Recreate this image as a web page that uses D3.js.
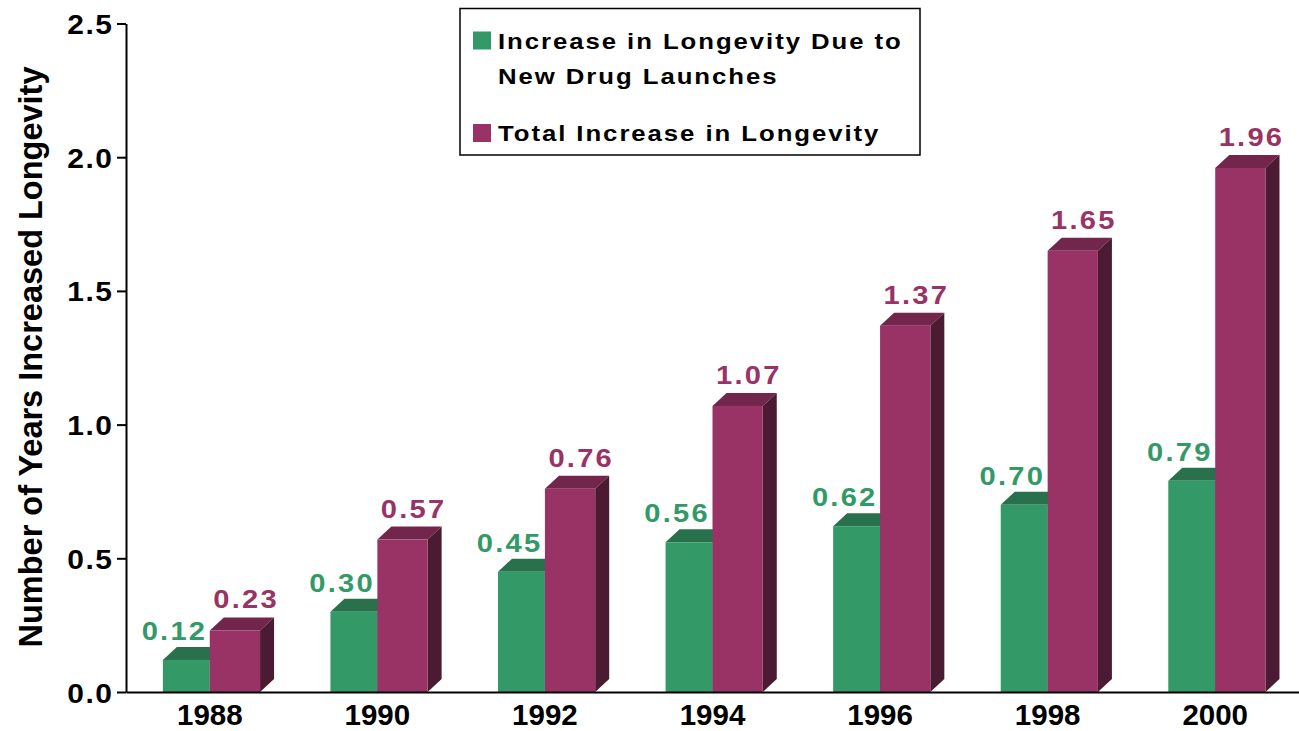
<!DOCTYPE html>
<html>
<head>
<meta charset="utf-8">
<script src="https://cdn.jsdelivr.net/npm/d3@7"></script>
<style>
  html, body { margin: 0; padding: 0; background: #fff; }
  svg { display: block; font-family: "Liberation Sans", Arial, Helvetica, sans-serif; font-weight: bold; }
</style>
</head>
<body>
<svg id="chart" width="1299" height="731"></svg>
<script>
// Years on the horizontal axis
const years = ["1988", "1990", "1992", "1994", "1996", "1998", "2000"];
// Increase in longevity due to new drug launches (years)
const drugLaunchGain = [0.12, 0.30, 0.45, 0.56, 0.62, 0.70, 0.79];
// Total increase in longevity (years)
const totalGain = [0.23, 0.57, 0.76, 1.07, 1.37, 1.65, 1.96];
// Vertical axis ticks
const yTicks = [0, 0.5, 1.0, 1.5, 2.0, 2.5];
const seriesNames = ["Increase in Longevity Due to|New Drug Launches", "Total Increase in Longevity"];

const svg = d3.select("#chart");
const plotLeft = 126, plotRight = 1299, plotTop = 23.5, plotBottom = 692;

const x = d3.scaleBand().domain(years).range([plotLeft, plotRight]).padding(0);
const y = d3.scaleLinear().domain([0, 2.5]).range([plotBottom, plotTop]);

const colors = {
  green: { front: "#339966", top: "#28714c", side: "#1e5439" },
  purple: { front: "#993366", top: "#73264c", side: "#4b1b34" }
};
const depthX = 14, depthY = 13;
// slightly widened, tracked-out lettering
const label = { size: 26, sx: 1.12, track: 2.0 };
const tick = { size: 28, sx: 1.07, track: 1.4 };
const legendFont = { size: 23, sx: 1.12, track: 1.73 };

function bar3d(g, x0, w, v, c) {
  const yt = y(v), yb = y(0);
  // top face
  g.append("path")
    .attr("d", `M${x0},${yt} L${x0 + depthX},${yt - depthY} L${x0 + w + depthX},${yt - depthY} L${x0 + w},${yt} Z`)
    .attr("fill", c.top);
  // side face
  g.append("path")
    .attr("d", `M${x0 + w},${yt} L${x0 + w + depthX},${yt - depthY} L${x0 + w + depthX},${yb - depthY} L${x0 + w},${yb} Z`)
    .attr("fill", c.side);
  // front face
  g.append("rect")
    .attr("x", x0).attr("y", yt)
    .attr("width", w).attr("height", yb - yt)
    .attr("fill", c.front);
}

function valueLabel(g, lx, ly, txt, fill) {
  g.append("text")
    .attr("transform", `translate(${lx},${ly}) scale(${label.sx},1)`)
    .attr("x", label.track / 2)
    .attr("text-anchor", "middle")
    .attr("font-size", label.size)
    .attr("letter-spacing", label.track)
    .attr("fill", fill)
    .text(txt);
}

const step = x.step();
const gw = step * 0.28, pw = step * 0.30;

const bars = svg.append("g");
years.forEach((yr, i) => {
  const cx = x(yr) + x.bandwidth() / 2;
  const g = bars.append("g");
  bar3d(g, cx - gw, gw, drugLaunchGain[i], colors.green);
  bar3d(g, cx, pw, totalGain[i], colors.purple);
  valueLabel(g, cx - gw / 2 - 13, y(drugLaunchGain[i]) - 20, drugLaunchGain[i].toFixed(2), colors.green.front);
  valueLabel(g, cx + (pw + depthX) / 2 + 3, y(totalGain[i]) - 22, totalGain[i].toFixed(2), colors.purple.front);
});

// Y axis
const yAxis = svg.append("g")
  .attr("transform", `translate(${plotLeft},0)`)
  .call(d3.axisLeft(y).tickValues(yTicks).tickFormat(d3.format(".1f")).tickSize(9).tickSizeOuter(0).tickPadding(0));
yAxis.select(".domain").attr("stroke", "#000").attr("stroke-width", 2);
yAxis.selectAll(".tick line").attr("stroke", "#000").attr("stroke-width", 2);
yAxis.selectAll(".tick text")
  .attr("x", tick.track).attr("dy", "0.36em")
  .attr("transform", `translate(-14,0) scale(${tick.sx},1)`)
  .attr("font-size", tick.size)
  .attr("letter-spacing", tick.track)
  .attr("font-family", "'Liberation Sans', Arial, sans-serif").attr("font-weight", "bold")
  .attr("fill", "#000");

// X axis baseline and year labels
const xAxis = svg.append("g")
  .attr("transform", `translate(0,${plotBottom})`)
  .call(d3.axisBottom(x).tickSize(0).tickSizeOuter(0).tickPadding(0));
xAxis.select(".domain").attr("stroke", "#000").attr("stroke-width", 2);
xAxis.selectAll(".tick text")
  .attr("y", 32.5).attr("dy", 0)
  .attr("font-size", 29.5)
  .attr("font-family", "'Liberation Sans', Arial, sans-serif").attr("font-weight", "bold")
  .attr("fill", "#000");

// Y axis title
svg.append("text")
  .attr("transform", `translate(41.5,357) rotate(-90)`)
  .attr("text-anchor", "middle")
  .attr("font-size", 32.5)
  .attr("fill", "#000")
  .text("Number of Years Increased Longevity");

// Legend
const legend = svg.append("g");
legend.append("rect")
  .attr("x", 460).attr("y", 8.5).attr("width", 460).attr("height", 146.5)
  .attr("fill", "#fff").attr("stroke", "#000").attr("stroke-width", 1.5);
const lg = [
  { color: colors.green.front, lines: seriesNames[0].split("|"), sq: 31.5, base: 48.5 },
  { color: colors.purple.front, lines: seriesNames[1].split("|"), sq: 124, base: 140.5 }
];
lg.forEach(item => {
  legend.append("rect")
    .attr("x", 473).attr("y", item.sq).attr("width", 18).attr("height", 18)
    .attr("fill", item.color);
  item.lines.forEach((ln, j) => {
    legend.append("text")
      .attr("transform", `translate(498,${item.base + j * 35}) scale(${legendFont.sx},1)`)
      .attr("font-size", legendFont.size)
      .attr("letter-spacing", legendFont.track)
      .attr("fill", "#000")
      .text(ln);
  });
});
</script>
</body>
</html>
